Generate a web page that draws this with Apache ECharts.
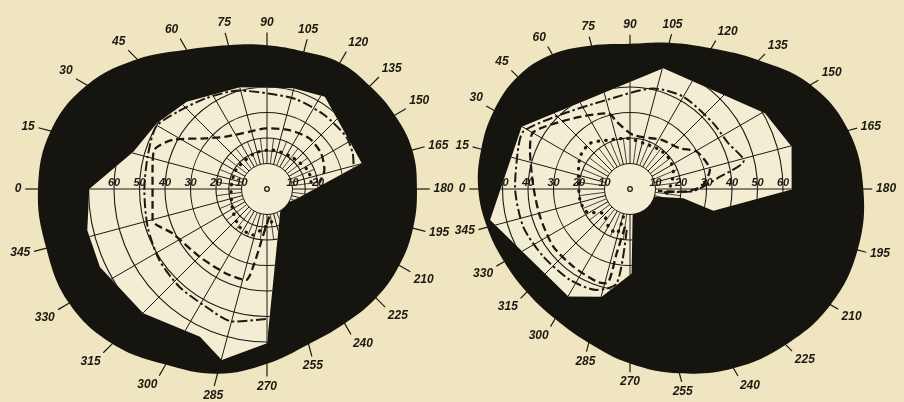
<!DOCTYPE html>
<html>
<head>
<meta charset="utf-8">
<script src="https://cdn.jsdelivr.net/npm/echarts@6/dist/echarts.min.js"></script>
<style>
  html, body { margin: 0; padding: 0; background: #efe6c1; }
  #main { width: 904px; height: 402px; }
</style>
</head>
<body>
<div id="main"></div>
<script>
// Two perimetry charts (visual fields): 0° on the left, 90° on top, clockwise.
// Radius in degrees of eccentricity.

const ANGLES = [0, 15, 30, 45, 60, 75, 90, 105, 120, 135, 150, 165,
  180, 195, 210, 225, 240, 255, 270, 285, 300, 315, 330, 345];

// outer edge of the black perimeter disc, one value per ANGLES entry
const edgeL = [89.8, 87.8, 81.5, 72.0, 63.1, 58.4, 56.4, 55.8, 57.2, 57.1, 57.9, 59.0,
  58.8, 59.3, 59.9, 60.5, 60.9, 63.0, 68.5, 75.0, 79.5, 85.8, 89.6, 89.6];
const edgeR = [59.5, 60.4, 61.6, 62.3, 61.0, 58.3, 57.0, 59.4, 63.7, 71.4, 81.8, 88.7,
  91.5, 92.4, 90.8, 86.4, 81.2, 74.8, 68.4, 62.5, 58.8, 57.2, 57.0, 58.0];

// visual field outline [angle, radius]
const fieldL = [[0, 69.7], [15.6, 54.4], [30.8, 50.3], [47.4, 46.5], [75.1, 41.3], [104.6, 40.8],
  [122.1, 42.7], [164.8, 38.5], [196.2, 12.7], [215, 9.5], [236.1, 9.5], [270, 60.5],
  [284.8, 69.4], [294.4, 63.6], [314.9, 68.8], [335, 72.3], [347.1, 72.3]];
const fieldR = [[347.5, 56.2], [29.9, 49.0], [105.4, 49.1], [150.7, 60.7], [165.3, 65.5],
  [180.2, 63.4], [194.6, 33.8], [189.9, 21.2], [198.2, 9.5], [230, 9.5], [263.7, 9.5],
  [268.9, 33.1], [284.7, 43.7], [299.8, 48.6]];

// isopters [angle, radius]
const isoL1 = [[270.5, 51], [284.5, 53.7], [297.4, 52], [311.9, 51.5], [326.6, 50.6], [342.5, 49.1],
  [359.5, 48.1], [15.2, 48.5], [29.3, 49.9], [40.9, 46.3], [56.1, 42.9], [74.3, 40.1], [90.4, 37.5],
  [107.9, 37], [127.8, 36.7], [146.5, 37.2], [157.4, 36.4], [166, 35]];
const isoL2 = [[265.2, 10.9], [275.2, 18.8], [279.7, 29.6], [283, 36.6], [295.9, 36.8], [315, 37.5],
  [334.8, 40.9], [344.8, 46.5], [9.4, 45.5], [19.1, 46.8], [27.5, 41.7], [39.7, 31.1], [51.9, 26.1],
  [72.9, 23.5], [89, 23.8], [110.7, 24.7], [129.9, 25.9], [146.6, 25.4], [161.7, 23.7], [173.8, 20.6]];
const isoL3 = [[262, 13], [278.3, 16.2], [287.3, 18.9], [306.3, 18.3], [328.5, 15.8], [358.4, 14.1],
  [31.5, 14.3], [70.4, 14.8], [95.9, 15.4], [126.6, 15.8], [155, 17.6], [170.5, 17.5], [180, 17]];

const isoR1 = [[274.6, 16.1], [278, 37.4], [288.3, 41.7], [303.4, 42.7], [322, 43.1], [340.5, 44.4],
  [1.2, 45.1], [20.8, 46.8], [28.5, 47.5], [46.6, 40], [75.3, 36.1], [103.1, 40.5], [120, 41.8],
  [141.8, 41.6], [155, 42.5], [166, 46], [172, 36], [182.5, 23.6], [186, 12]];
const isoR2 = [[277.6, 14.9], [281.7, 25.8], [283.9, 38.1], [289.8, 38.6], [306.1, 37.7], [323.1, 37.6],
  [342.9, 36.9], [1.4, 37.9], [21.3, 42.1], [30.5, 44], [51.3, 35.5], [74, 30.9], [78.8, 26.9],
  [93.5, 21.2], [122.9, 22.9], [140.9, 25.3], [150.8, 30], [166.6, 32.2], [178, 28], [183, 20], [184, 11]];
const isoR3 = [[283.5, 11.2], [286.7, 18.2], [299.9, 17], [317.6, 14.2], [332.4, 19.2], [347.6, 20.1],
  [13.4, 20.8], [32.9, 23.3], [48.8, 23.8], [67.8, 20.8], [86.2, 19.9], [106.3, 18.7], [127.6, 19.3],
  [144, 19.4], [160.1, 18.1], [175, 16], [186.7, 14.5]];

// grid circles and the scale numbers written along the horizontal
const ringsL = [15, 20, 30, 40, 50, 60, 70, 80, 90];
const ringsR = [20, 30, 40, 50, 60, 70, 80, 90];
const scaleL = [[0, 10], [0, 20], [0, 30], [0, 40], [0, 50], [0, 60], [180, 10], [180, 20]];
const scaleR = [[0, 10], [0, 20], [0, 30], [0, 40], [0, 50],
  [180, 10], [180, 20], [180, 30], [180, 40], [180, 50], [180, 60]];

const INK = '#1c1910';
const BLACK = '#16140e';
const FIELD = '#f3edd4';
const PAPER = '#efe6c1';
const KPX = 2.55; // px per degree

const chart = echarts.init(document.getElementById('main'));

function plate(edge, field, rings) {
  return function (params, api) {
    const c = api.coord([0, 0]);
    const px = v => { const p = api.coord([v, 0]); return Math.hypot(p[0] - c[0], p[1] - c[1]); };
    const outerPts = ANGLES.map((a, i) => api.coord([edge[i], a]));
    const fieldPts = field.map(([a, r]) => api.coord([r, a]));
    const grid = [];
    rings.forEach(v => grid.push({
      type: 'circle', shape: { cx: c[0], cy: c[1], r: px(v) },
      style: { fill: 'none', stroke: INK, lineWidth: 1.1 }
    }));
    ANGLES.forEach(a => {
      const p0 = api.coord([10, a]), p1 = api.coord([100, a]);
      grid.push({ type: 'line', shape: { x1: p0[0], y1: p0[1], x2: p1[0], y2: p1[1] },
        style: { stroke: INK, lineWidth: 1 } });
      const q0 = api.coord([10, a + 7.5]), q1 = api.coord([20, a + 7.5]);
      grid.push({ type: 'line', shape: { x1: q0[0], y1: q0[1], x2: q1[0], y2: q1[1] },
        style: { stroke: INK, lineWidth: 0.8 } });
    });
    return {
      type: 'group',
      children: [
        { type: 'polygon', shape: { points: outerPts, smooth: 0.4 }, style: { fill: BLACK } },
        { type: 'polygon', shape: { points: fieldPts }, style: { fill: FIELD } },
        { type: 'group', children: grid, clipPath: { type: 'polygon', shape: { points: fieldPts } } },
        { type: 'circle', shape: { cx: c[0], cy: c[1], r: px(10) },
          style: { fill: FIELD, stroke: INK, lineWidth: 1 } },
        { type: 'circle', shape: { cx: c[0], cy: c[1], r: 2.3 },
          style: { fill: FIELD, stroke: INK, lineWidth: 1.3 } }
      ]
    };
  };
}

// tick mark + angle number just outside the black rim
function rim(gap) {
  return function (params, api) {
    const e = api.value(0), a = api.value(1);
    const p0 = api.coord([e - 0.5, a]), p1 = api.coord([e + gap - 1.5, a]), p2 = api.coord([e + gap, a]);
    const rad = a * Math.PI / 180;
    const dx = -Math.cos(rad), dy = -Math.sin(rad);
    const align = dx > 0.35 ? 'left' : dx < -0.35 ? 'right' : 'center';
    const valign = dy > 0.35 ? 'top' : dy < -0.35 ? 'bottom' : 'middle';
    return {
      type: 'group',
      children: [
        { type: 'line', shape: { x1: p0[0], y1: p0[1], x2: p1[0], y2: p1[1] },
          style: { stroke: INK, lineWidth: 1.2 } },
        { type: 'text', x: p2[0], y: p2[1],
          style: { text: String(a), fill: INK, font: 'italic bold 12px "Liberation Sans"',
            align: align, verticalAlign: valign } }
      ]
    };
  };
}

function scaleText(params, api) {
  const p = api.coord([api.value(0), api.value(1)]);
  return {
    type: 'text', x: p[0], y: p[1] - 1,
    style: { text: String(api.value(0)), fill: INK, font: 'italic bold 11px "Liberation Sans"',
      align: 'center', verticalAlign: 'bottom' }
  };
}

function iso(data, polarIndex, lineStyle) {
  return {
    type: 'line', coordinateSystem: 'polar', polarIndex: polarIndex,
    data: data.map(([a, r]) => [r, a]),
    symbol: 'none', smooth: 0.25, silent: true, z: 5,
    lineStyle: Object.assign({ color: INK }, lineStyle)
  };
}

const DASHDOT = { width: 2, type: [10, 3, 2.5, 3] };
const DASHED = { width: 2.3, type: [8, 4] };
const DOTTED = { width: 3.2, type: [0.5, 7], cap: 'round' };

const hidden = { show: false };
function radiusAxis(i) {
  return { polarIndex: i, type: 'value', min: 0, max: 100,
    axisLine: hidden, axisTick: hidden, axisLabel: hidden, splitLine: hidden };
}
function angleAxis(i) {
  return { polarIndex: i, type: 'value', min: 0, max: 360, startAngle: 180, clockwise: true,
    axisLine: hidden, axisTick: hidden, axisLabel: hidden, splitLine: hidden };
}

const charts = [
  { edge: edgeL, field: fieldL, rings: ringsL, scale: scaleL, isos: [isoL1, isoL2, isoL3], gap: 6.5 },
  { edge: edgeR, field: fieldR, rings: ringsR, scale: scaleR, isos: [isoR1, isoR2, isoR3], gap: 5 }
];

const series = [];
charts.forEach((c, i) => {
  series.push({
    type: 'custom', coordinateSystem: 'polar', polarIndex: i, silent: true, z: 1,
    data: [[0, 0]], renderItem: plate(c.edge, c.field, c.rings)
  });
  series.push(iso(c.isos[0], i, DASHDOT));
  series.push(iso(c.isos[1], i, DASHED));
  series.push(iso(c.isos[2], i, DOTTED));
  series.push({
    type: 'custom', coordinateSystem: 'polar', polarIndex: i, silent: true, z: 6,
    data: ANGLES.map((a, k) => [c.edge[k], a]), renderItem: rim(c.gap)
  });
  series.push({
    type: 'custom', coordinateSystem: 'polar', polarIndex: i, silent: true, z: 6,
    data: c.scale.map(([a, v]) => [v, a]), renderItem: scaleText
  });
});

chart.setOption({
  backgroundColor: PAPER,
  animation: false,
  polar: [
    { center: [267, 189], radius: KPX * 100 },
    { center: [630, 189], radius: KPX * 100 }
  ],
  radiusAxis: [radiusAxis(0), radiusAxis(1)],
  angleAxis: [angleAxis(0), angleAxis(1)],
  series: series
});
</script>
</body>
</html>
